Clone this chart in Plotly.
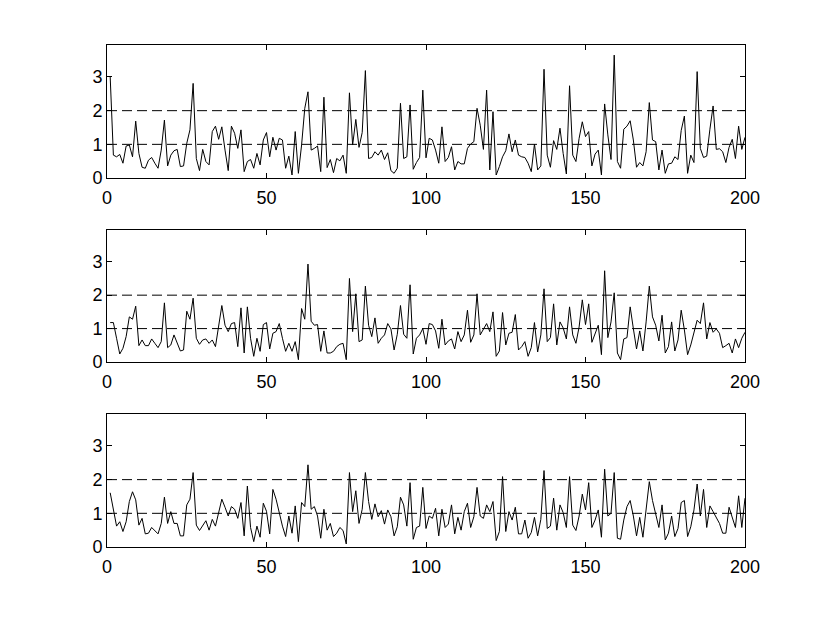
import plotly.graph_objects as go
from plotly.subplots import make_subplots

x_idx = list(range(1, 201))

series_top = [
    3.0, 0.68, 0.63, 0.70, 0.44, 0.95, 0.98, 0.63, 1.69, 0.73,
    0.32, 0.29, 0.53, 0.61, 0.44, 0.29, 0.83, 1.72, 0.36, 0.68,
    0.81, 0.85, 0.34, 0.36, 1.03, 1.43, 2.81, 0.58, 0.22, 0.85,
    0.49, 0.39, 1.38, 1.54, 1.15, 1.52, 0.83, 0.22, 1.54, 1.33,
    0.88, 1.43, 0.19, 0.49, 0.55, 0.29, 0.73, 0.39, 1.13, 1.35,
    0.63, 1.21, 0.83, 1.18, 1.13, 0.29, 0.65, 0.09, 1.38, 0.14,
    0.98, 2.07, 2.56, 0.83, 0.88, 0.95, 0.19, 2.40, 0.31, 0.55,
    0.16, 0.58, 0.51, 0.68, 0.14, 2.53, 0.98, 1.74, 0.91, 1.35,
    3.19, 0.58, 0.61, 0.78, 0.68, 0.83, 0.55, 0.75, 0.22, 0.14,
    0.29, 2.22, 0.58, 0.63, 2.17, 0.26, 0.46, 0.61, 2.61, 0.60,
    1.18, 1.13, 0.83, 0.44, 1.52, 0.49, 0.61, 0.93, 0.24, 0.49,
    0.42, 0.42, 0.88, 1.01, 1.08, 2.07, 1.57, 0.85, 2.61, 0.24,
    1.97, 0.09, 0.34, 0.63, 0.81, 1.31, 0.78, 1.13, 0.68, 0.63,
    0.61, 0.44, 0.19, 1.01, 0.24, 0.36, 3.23, 0.68, 0.32, 1.11,
    0.85, 1.48, 0.73, 0.12, 2.74, 0.68, 0.49, 1.18, 1.67, 1.23,
    1.38, 0.36, 0.71, 0.83, 0.09, 2.20, 1.28, 0.55, 3.65, 0.49,
    0.29, 1.45, 1.54, 1.70, 1.13, 0.32, 0.46, 0.36, 0.78, 2.24,
    1.13, 1.08, 0.24, 0.83, 0.14, 0.42, 0.44, 0.63, 0.55, 1.41,
    1.84, 0.14, 0.68, 0.46, 3.16, 0.88, 0.61, 0.65, 1.45, 2.14,
    0.85, 0.87, 0.78, 0.46, 0.91, 1.15, 0.58, 1.54, 0.85, 1.21,
]

series_mid = [
    1.18, 1.18, 0.71, 0.24, 0.41, 0.76, 1.35, 1.28, 1.67, 0.49,
    0.66, 0.49, 0.49, 0.69, 0.56, 0.43, 0.61, 1.77, 0.43, 0.51,
    0.81, 0.59, 0.33, 0.36, 1.52, 1.28, 1.91, 0.71, 0.53, 0.66,
    0.69, 0.56, 0.66, 0.46, 1.08, 1.69, 1.10, 0.91, 1.15, 1.18,
    0.46, 1.62, 0.27, 1.65, 0.71, 0.17, 0.71, 0.32, 1.12, 1.18,
    0.39, 0.86, 0.91, 1.15, 0.71, 0.32, 0.56, 0.32, 0.61, 0.07,
    1.60, 1.28, 2.93, 1.22, 1.10, 1.12, 0.32, 0.93, 0.27, 0.27,
    0.32, 0.46, 0.53, 0.56, 0.07, 2.50, 0.91, 2.04, 0.61, 0.66,
    2.27, 1.10, 0.76, 1.32, 0.56, 0.71, 0.81, 1.15, 0.99, 0.36,
    0.83, 1.69, 0.83, 0.71, 2.31, 0.24, 0.71, 0.81, 1.00, 0.53,
    1.15, 1.12, 0.93, 0.41, 1.28, 0.51, 0.63, 0.69, 0.39, 0.91,
    0.61, 0.81, 1.55, 0.59, 0.81, 2.04, 0.81, 1.00, 1.15, 0.91,
    1.50, 0.17, 0.33, 1.48, 0.51, 0.86, 0.89, 1.42, 0.36, 0.46,
    0.61, 0.17, 0.43, 1.18, 0.30, 0.81, 2.19, 0.61, 0.73, 1.74,
    0.51, 1.20, 1.02, 0.69, 1.65, 0.81, 0.56, 1.05, 1.86, 1.12,
    1.74, 0.59, 0.86, 1.10, 0.22, 2.73, 0.73, 1.20, 2.07, 0.27,
    0.07, 0.69, 0.73, 1.65, 1.00, 0.39, 0.93, 0.33, 1.20, 2.27,
    1.35, 1.10, 0.63, 1.40, 0.27, 0.46, 1.20, 0.33, 0.66, 1.55,
    0.96, 0.22, 0.51, 0.93, 1.25, 1.15, 1.77, 0.69, 1.18, 0.89,
    0.99, 0.86, 0.43, 0.49, 0.56, 0.27, 0.69, 0.43, 0.71, 0.89,
]

series_bot = [
    1.61, 1.15, 0.62, 0.75, 0.46, 0.75, 1.35, 1.64, 1.40, 0.65,
    0.85, 0.39, 0.41, 0.58, 0.49, 0.39, 0.70, 1.48, 0.70, 1.05,
    0.70, 0.70, 0.33, 0.33, 1.25, 1.42, 2.21, 0.65, 0.49, 0.62,
    0.78, 0.50, 0.82, 0.62, 1.05, 1.42, 1.18, 0.92, 1.20, 1.12,
    0.85, 1.32, 0.33, 1.81, 0.58, 0.16, 0.62, 0.29, 1.30, 1.06,
    0.39, 1.71, 1.42, 1.00, 0.62, 0.31, 0.92, 0.41, 1.22, 0.16,
    1.32, 1.20, 2.44, 1.12, 1.20, 0.92, 0.26, 1.12, 0.50, 0.70,
    0.31, 0.41, 0.58, 0.49, 0.09, 2.21, 1.05, 1.67, 0.70, 1.12,
    2.21, 1.35, 0.82, 1.28, 0.90, 1.08, 0.68, 1.10, 0.90, 0.33,
    0.60, 1.48, 1.25, 0.62, 1.91, 0.23, 0.58, 0.62, 1.77, 0.55,
    0.92, 0.85, 1.15, 0.33, 1.12, 0.58, 0.68, 1.25, 0.39, 0.88,
    0.50, 1.05, 1.30, 0.58, 0.90, 1.77, 0.92, 0.85, 1.25, 1.05,
    1.35, 0.19, 0.46, 2.09, 0.46, 1.05, 0.80, 1.18, 0.39, 0.39,
    0.80, 0.26, 0.43, 0.88, 0.33, 0.82, 2.27, 0.55, 0.62, 1.45,
    0.50, 1.25, 1.02, 0.58, 2.09, 0.65, 0.49, 0.92, 1.57, 1.10,
    1.91, 0.58, 0.80, 1.10, 0.29, 2.31, 0.92, 1.00, 2.21, 0.26,
    0.23, 0.80, 1.20, 1.38, 0.92, 0.33, 0.88, 0.29, 1.12, 1.94,
    1.38, 1.02, 0.58, 1.25, 0.21, 0.41, 0.92, 0.31, 0.55, 1.32,
    1.38, 0.31, 0.60, 1.10, 1.87, 0.92, 1.71, 0.58, 1.22, 1.05,
    0.85, 0.70, 0.41, 0.41, 1.18, 0.88, 0.58, 1.52, 0.58, 1.45,
]

ref_levels = [1, 2]
x_ticks = [0, 50, 100, 150, 200]
y_ticks = [0, 1, 2, 3]

fig = make_subplots(rows=3, cols=1, vertical_spacing=0.1)

for r, s in enumerate([series_top, series_mid, series_bot], start=1):
    for lv in ref_levels:
        fig.add_trace(go.Scatter(x=[x_ticks[0], x_ticks[-1]], y=[lv, lv], mode="lines",
                                 line=dict(color="black", width=1, dash="10px,5px"),
                                 hoverinfo="skip", showlegend=False), row=r, col=1)
    fig.add_trace(go.Scatter(x=x_idx, y=s, mode="lines",
                             line=dict(color="black", width=1),
                             showlegend=False), row=r, col=1)

axis_common = dict(showgrid=False, zeroline=False, showline=True, linecolor="black",
                   linewidth=1, mirror="ticks", ticks="inside", ticklen=5,
                   tickcolor="black", tickfont=dict(family="Liberation Sans, Arial", size=18, color="black"))

domains = [(0.735, 1.0), (0.3685, 0.6315), (0.0, 0.265)]
for r in range(1, 4):
    xa = "xaxis" if r == 1 else f"xaxis{r}"
    ya = "yaxis" if r == 1 else f"yaxis{r}"
    fig.layout[xa].update(range=[0, 200], tickvals=x_ticks, ticklabelstandoff=3, **axis_common)
    fig.layout[ya].update(range=[0, 3.95], tickvals=y_ticks, domain=list(domains[r - 1]), **axis_common)

fig.update_layout(width=822, height=617, margin=dict(l=99, r=85, t=37, b=78),
                  plot_bgcolor="white", paper_bgcolor="white")

fig.write_html("out.html")
